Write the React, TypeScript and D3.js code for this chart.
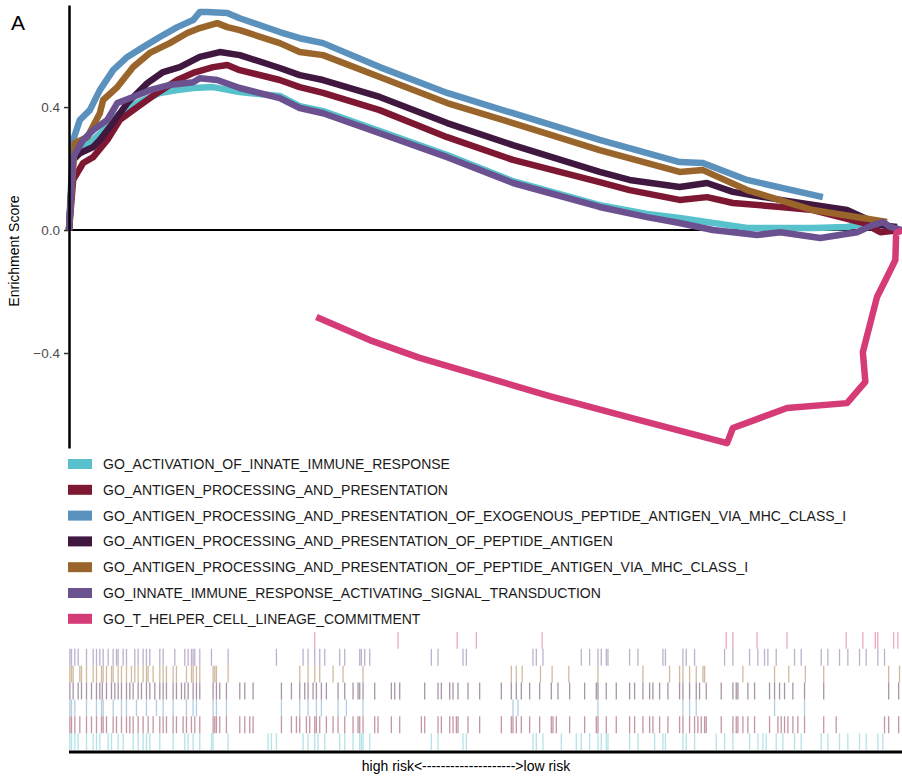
import { useEffect, useRef } from 'react'
import * as d3 from 'd3'

// gene sets, in legend order
const geneSets = [
  'GO_ACTIVATION_OF_INNATE_IMMUNE_RESPONSE',
  'GO_ANTIGEN_PROCESSING_AND_PRESENTATION',
  'GO_ANTIGEN_PROCESSING_AND_PRESENTATION_OF_EXOGENOUS_PEPTIDE_ANTIGEN_VIA_MHC_CLASS_I',
  'GO_ANTIGEN_PROCESSING_AND_PRESENTATION_OF_PEPTIDE_ANTIGEN',
  'GO_ANTIGEN_PROCESSING_AND_PRESENTATION_OF_PEPTIDE_ANTIGEN_VIA_MHC_CLASS_I',
  'GO_INNATE_IMMUNE_RESPONSE_ACTIVATING_SIGNAL_TRANSDUCTION',
  'GO_T_HELPER_CELL_LINEAGE_COMMITMENT',
]
const setColors = ['#58c2cc', '#7d1732', '#5a91bd', '#3f173f', '#9a652a', '#6c5190', '#d53b77']

const yTicks = [-0.4, 0, 0.4]

// running enrichment score: [rank position (0-1000), ES]
const esActivation = [[0,0],[5,0.237],[17,0.27],[29,0.293],[46,0.335],[61,0.38],[82,0.413],[109,0.446],[130,0.455],[149,0.462],[173,0.465],[205,0.449],[253,0.436],[277,0.403],[305,0.387],[373,0.322],[454,0.244],[533,0.159],[637,0.081],[694,0.052],[733,0.039],[814,0.007],[893,0.007],[934,0.01],[962,0.023],[994,0.007]]
const esAntigen = [[0,0],[5,0.163],[17,0.218],[29,0.237],[46,0.293],[61,0.358],[82,0.4],[106,0.446],[130,0.488],[149,0.511],[173,0.53],[190,0.537],[205,0.52],[253,0.488],[277,0.465],[305,0.446],[373,0.39],[454,0.302],[533,0.228],[637,0.156],[673,0.13],[733,0.098],[766,0.107],[797,0.088],[854,0.075],[893,0.065],[953,0.023],[974,-0.007],[998,0]]
const esExogenous = [[0,0],[5,0.293],[13,0.358],[25,0.39],[37,0.455],[53,0.52],[70,0.563],[89,0.595],[109,0.628],[130,0.66],[149,0.683],[157,0.709],[166,0.709],[190,0.706],[205,0.689],[253,0.644],[277,0.624],[305,0.608],[373,0.53],[454,0.446],[533,0.38],[637,0.293],[733,0.221],[761,0.218],[814,0.163],[905,0.107]]
const esPeptide = [[0,0],[5,0.228],[13,0.25],[29,0.27],[37,0.293],[49,0.335],[70,0.413],[94,0.478],[113,0.514],[133,0.53],[157,0.563],[181,0.579],[205,0.569],[253,0.527],[277,0.504],[305,0.488],[373,0.433],[454,0.348],[533,0.276],[637,0.189],[673,0.163],[733,0.14],[766,0.153],[797,0.124],[854,0.098],[934,0.065],[974,0.016],[994,0.01]]
const esMhcI = [[0,0],[7,0.283],[22,0.302],[37,0.38],[41,0.423],[58,0.465],[77,0.53],[97,0.576],[121,0.608],[142,0.641],[157,0.657],[178,0.673],[190,0.66],[205,0.65],[253,0.608],[277,0.579],[305,0.569],[373,0.498],[454,0.413],[533,0.348],[637,0.26],[733,0.189],[761,0.195],[814,0.13],[893,0.065],[982,0.026]]
const esSignal = [[0,0],[5,0.237],[17,0.293],[29,0.325],[46,0.358],[58,0.413],[77,0.433],[97,0.455],[121,0.472],[149,0.481],[157,0.494],[178,0.488],[205,0.462],[253,0.429],[277,0.397],[305,0.38],[373,0.315],[454,0.237],[533,0.153],[637,0.075],[694,0.042],[733,0.023],[773,0],[826,-0.016],[854,-0.007],[902,-0.026],[946,-0.007],[965,0.016],[977,0.026],[986,0.01],[1000,0]]
const esThelper = [[297,-0.283],[361,-0.358],[421,-0.416],[463,-0.449],[577,-0.54],[685,-0.618],[790,-0.693],[797,-0.644],[830,-0.611],[862,-0.579],[934,-0.563],[956,-0.494],[953,-0.397],[970,-0.218],[982,-0.153],[992,-0.098],[993,-0.01],[1000,0]]
const esSeries = [esActivation, esAntigen, esExogenous, esPeptide, esMhcI, esSignal, esThelper]

// hit positions of each gene set in the ranked list (0-1000)
const hitsActivation = [1,3,7,11,21,29,33,37,47,51,59,65,77,83,89,93,97,109,125,139,143,149,157,171,173,191,239,243,249,281,287,295,299,307,325,331,341,349,351,353,361,435,443,473,477,557,561,569,591,609,615,625,635,639,645,647,673,683,703,713,716,737,741,751,777,787,797,817,827,833,837,849,857,871,879,903,911,925,935,949,957,971,977]
const hitsAntigen = [1,3,7,13,21,27,33,39,41,45,53,57,63,69,73,77,83,89,95,101,109,113,117,125,129,137,141,147,151,157,173,175,177,181,189,205,211,217,221,255,267,273,277,285,289,295,297,301,309,317,323,331,341,347,349,353,367,371,387,397,423,427,443,447,457,461,465,467,479,493,519,531,533,537,543,553,565,579,581,585,601,619,633,635,645,657,673,679,689,697,701,709,719,733,737,745,751,755,759,763,765,783,797,801,803,809,815,823,841,851,855,859,863,869,875,883,906,921,979,984,996]
const hitsExogenous = [1,3,7,21,33,39,41,53,63,69,81,93,105,113,125,141,149,153,173,177,189,255,277,287,297,303,323,333,353,533,539,635,737,745,753,847,883]
const hitsPeptide = [1,5,11,15,21,27,33,37,40,45,51,55,59,63,69,73,77,83,87,93,97,103,109,113,117,125,129,135,139,143,149,153,157,173,177,181,189,205,211,221,255,267,277,283,287,293,297,303,309,323,331,341,347,349,353,367,387,391,397,427,443,447,457,461,467,479,493,519,531,537,543,553,565,579,587,601,619,633,635,645,657,673,679,689,697,701,709,719,733,737,745,753,757,765,783,797,801,803,815,823,841,847,853,859,869,883,906,984,996]
const hitsMhcI = [1,3,5,13,15,21,29,33,39,41,45,51,53,59,63,69,75,79,83,89,93,95,101,109,113,117,125,129,141,147,149,153,157,173,175,177,191,277,287,295,301,317,329,353,531,537,544,566,580,600,635,689,721,733,737,745,753,761,763,809,847,864,884,906,984,997]
const hitsSignal = [1,3,7,11,21,29,33,37,41,47,53,57,59,65,69,79,83,89,93,97,109,113,127,139,143,147,149,151,157,171,191,249,281,287,295,301,307,325,331,349,351,355,361,435,443,473,477,557,561,569,615,625,635,639,645,647,673,683,713,716,737,741,751,787,797,817,827,835,839,849,871,879,903,911,925,935,949,957,971,979]
const hitsThelper = [295,395,466,489,568,789,797,826,862,933,953,968,971,990,995]
const hitSeries = [hitsActivation, hitsAntigen, hitsExogenous, hitsPeptide, hitsMhcI, hitsSignal, hitsThelper]

export default function App() {
  const svgRef = useRef<SVGSVGElement>(null)

  useEffect(() => {
    document.body.style.margin = '0'
    const svg = d3.select(svgRef.current)
    svg.selectAll('*').remove()

    const width = 902
    const height = 778
    const font = 'Liberation Sans, Arial, sans-serif'
    svg.attr('width', width).attr('height', height).style('font-family', font)

    const x = d3.scaleLinear().domain([0, 1000]).range([69, 902])
    const y = d3.scaleLinear().domain([-0.709, 0.732]).range([448, 5])

    // zero line
    svg.append('line')
      .attr('x1', x(0)).attr('x2', x(1000))
      .attr('y1', y(0)).attr('y2', y(0))
      .style('stroke', '#000').style('stroke-width', 2)

    // ES curves
    const line = d3.line<number[]>().x(d => x(d[0])).y(d => y(d[1]))
    esSeries.forEach((s, i) => {
      svg.append('path')
        .datum(s)
        .attr('d', line)
        .style('fill', 'none')
        .style('stroke', setColors[i])
        .style('stroke-width', 6.5)
        .style('stroke-linejoin', 'round')
    })

    // y axis
    const yAxis = svg.append('g')
      .attr('transform', `translate(${x(0)},0)`)
      .call(d3.axisLeft(y).tickValues(yTicks).tickSizeInner(5).tickSizeOuter(0).tickPadding(4)
        .tickFormat(d => d3.format('.1f')(d as number)))
    yAxis.select('.domain').style('stroke', '#000').style('stroke-width', 2.5)
    yAxis.selectAll('.tick line').style('stroke', '#333').style('stroke-width', 1.5)
    yAxis.selectAll('.tick text')
      .style('fill', '#4d4d4d').style('font-size', '13.5px').style('font-family', font)

    svg.append('text')
      .attr('transform', 'translate(19,251) rotate(-90)')
      .attr('text-anchor', 'middle')
      .style('font-size', '14px')
      .style('fill', '#000')
      .text('Enrichment Score')

    svg.append('text')
      .attr('x', 11).attr('y', 30)
      .style('font-size', '21px')
      .style('fill', '#000')
      .text('A')

    // legend
    const legend = svg.append('g').attr('transform', 'translate(68,464)')
    geneSets.forEach((name, i) => {
      const g = legend.append('g').attr('transform', `translate(0,${i * 25.8})`)
      g.append('rect')
        .attr('x', 0).attr('y', -5)
        .attr('width', 24).attr('height', 10)
        .style('fill', setColors[i])
      g.append('text')
        .attr('x', 35).attr('y', 0)
        .attr('dy', '0.36em')
        .style('font-size', '14px')
        .style('fill', '#1a1a1a')
        .text(name)
    })

    // hit rug, top row is the last gene set
    const rows = d3.scaleBand<number>()
      .domain(d3.range(geneSets.length).reverse())
      .range([632, 750])

    hitSeries.forEach((hits, i) => {
      svg.append('g')
        .selectAll('line')
        .data(hits)
        .enter().append('line')
        .attr('x1', d => x(d)).attr('x2', d => x(d))
        .attr('y1', rows(i)!).attr('y2', rows(i)! + rows.bandwidth())
        .style('stroke', setColors[i])
        .style('stroke-width', 1.3)
        .style('stroke-opacity', 0.45)
    })

    svg.append('line')
      .attr('x1', x(0)).attr('x2', x(1000))
      .attr('y1', 752).attr('y2', 752)
      .style('stroke', '#000').style('stroke-width', 3)

    svg.append('text')
      .attr('x', 466).attr('y', 771)
      .attr('text-anchor', 'middle')
      .style('font-size', '14px')
      .style('fill', '#000')
      .text('high risk<-------------------->low risk')
  }, [])

  return <svg ref={svgRef}></svg>
}
